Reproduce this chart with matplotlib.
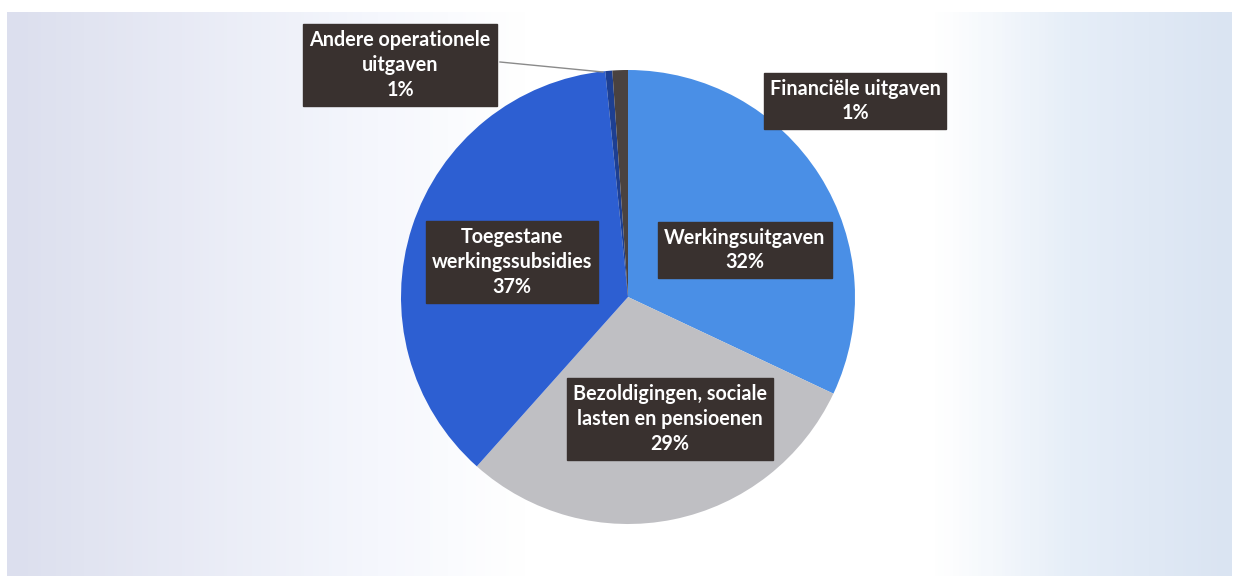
import matplotlib
matplotlib.use("Agg")
import matplotlib.pyplot as plt
import numpy as np
from matplotlib.colors import LinearSegmentedColormap

# slices, clockwise from 12 o'clock
categories = ["Werkingsuitgaven", "Bezoldigingen, sociale lasten en pensioenen",
              "Toegestane werkingssubsidies", "Andere operationele uitgaven",
              "Financiële uitgaven"]
values = [32.0, 29.6, 36.8, 0.5, 1.1]
labels = ["Werkingsuitgaven\n32%",
          "Bezoldigingen, sociale\nlasten en pensioenen\n29%",
          "Toegestane\nwerkingssubsidies\n37%",
          "Andere operationele\nuitgaven\n1%",
          "Financiële uitgaven\n1%"]
colors = ["#4a8fe6", "#bfbfc3", "#2d5fd2", "#1d3f92", "#4a4240"]

W, H = 1235, 580
fig = plt.figure(figsize=(W / 100, H / 100), dpi=100)
fig.patch.set_facecolor("white")
ax = fig.add_axes([0, 0, 1, 1])

def py(y):
    # pixel row (from top) -> data y
    return H - y

# scanned page background: bluish at the sides, white in the middle
bg = LinearSegmentedColormap.from_list("bg", [(0, "#dcdfee"), (0.3, "#f5f7fd"),
                                              (0.42, "#ffffff"), (0.76, "#ffffff"),
                                              (0.87, "#e6eef8"), (1, "#dae4f2")])
grad = np.linspace(0, 1, 400).reshape(1, -1)
ax.imshow(grad, cmap=bg, extent=[7, 1232, py(576), py(12)], aspect="auto", zorder=0)

ax.pie(values, colors=colors, startangle=90, counterclock=False,
       center=(628, py(297)), radius=227, frame=True,
       wedgeprops=dict(linewidth=0))
ax.set_xlim(0, W)
ax.set_ylim(0, H)
ax.set_aspect("equal")
ax.axis("off")

# leader line for the small slice
ax.plot([500, 603], [py(62), py(72)], color="#8a8a8a", lw=1.0, zorder=3)

# label positions (pixel centres of the text blocks)
label_pos = [(745, 250), (670, 419), (512, 262), (400, 65), (855, 101)]
for lab, (x, y) in zip(labels, label_pos):
    ax.text(x, py(y), lab, ha="center", va="center", color="white",
            fontsize=14.2, fontweight="bold", family=["Lato", "DejaVu Sans"],
            linespacing=1.3, zorder=5,
            bbox=dict(boxstyle="square,pad=0.3", fc="#39312f", ec="#39312f"))

fig.savefig("out.png", dpi=100, facecolor=fig.get_facecolor())
